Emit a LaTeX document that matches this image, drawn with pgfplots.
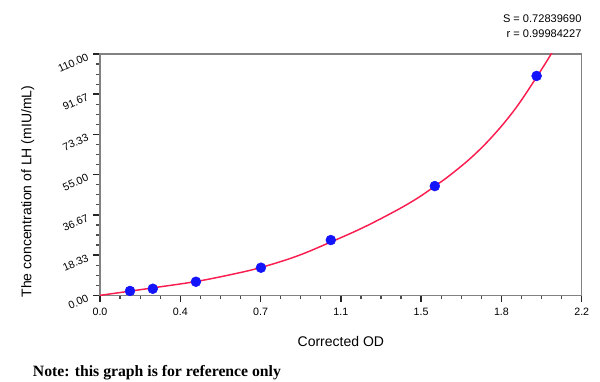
\documentclass[border=0pt]{standalone}
\usepackage{pgfplots}
\pgfplotsset{compat=1.18}
\usepackage{fontspec}
\setmainfont{Liberation Sans}
\newfontfamily\serifbold{Liberation Serif}
\definecolor{fitred}{RGB}{250,30,80}
\definecolor{ptblue}{RGB}{20,20,250}
\definecolor{axgray}{RGB}{130,130,130}
\begin{document}
\begin{tikzpicture}
\begin{axis}[
  scale only axis,
  width=361.3pt, height=181pt,
  xmin=0, xmax=2.2, ymin=0, ymax=110,
  axis line style={axgray, line width=0.8pt},
  xtick pos=left, ytick pos=left,
  tick align=outside,
  minor tick style={black!70, line width=0.9pt},
  major tick style={black!85, line width=1.1pt},
  major tick length=5pt, minor tick length=3pt,
  minor xtick={0.09167,0.18333,0.275,0.45833,0.55,0.64167,0.825,0.91667,1.00833,1.19167,1.28333,1.375,1.55833,1.65,1.74167,1.925,2.01667,2.10833},
  minor ytick={4.5833,9.1667,13.75,22.9167,27.5,32.0833,41.25,45.8333,50.4167,59.5833,64.1667,68.75,77.9167,82.5,87.0833,96.25,100.8333,105.4167},
  xtick={0,0.36667,0.73333,1.1,1.46667,1.83333,2.2},
  xticklabels={0.0,0.4,0.7,1.1,1.5,1.8,2.2},
  ytick={0,18.3333,36.6667,55,73.3333,91.6667,110},
  yticklabels={0.00,18.33,36.67,55.00,73.33,91.67,110.00},
  /pgf/number format/assume math mode=true,
  ticklabel style={font=\fontsize{8pt}{9pt}\selectfont},
  yticklabel style={rotate=24, anchor=east, xshift=-1pt},
  xticklabel style={yshift=-1pt},
  xlabel={Corrected OD},
  ylabel={The concentration of LH (mIU/mL)},
  label style={font=\fontsize{10.5pt}{12pt}\selectfont},
  xlabel style={at={(axis description cs:0.5,0)}, anchor=center, yshift=-34.3pt},
  ylabel style={at={(axis description cs:-0.15,0.43)}, anchor=center},
]
\addplot[only marks, mark=*, mark size=3.7pt, color=ptblue, mark options={fill=ptblue, draw=ptblue}] coordinates {
  (0.137,2.0) (0.241,3.0) (0.438,6.2) (0.735,12.6) (1.054,25.2) (1.529,49.8) (1.994,100.0)
};
\addplot[fitred, line width=1.1pt, smooth, tension=0.6] coordinates {
  (0,0) (0.137,1.9) (0.241,3.4) (0.438,6.3) (0.60,9.5) (0.735,12.7) (0.90,17.9)
  (1.054,24.3) (1.20,30.8) (1.35,38.5) (1.45,44.3) (1.53,49.8) (1.60,54.9)
  (1.70,63.2) (1.80,73.3) (1.90,85.5) (2.00,100.4) (2.07,111.5) (2.10,116)
};
\end{axis}
\node[anchor=east, font=\fontsize{8.3pt}{10pt}\selectfont, inner sep=0pt] at (361.3pt,207.2pt) {S = 0.72839690};
\node[anchor=east, font=\fontsize{8.3pt}{10pt}\selectfont, inner sep=0pt] at (361.3pt,196.5pt) {r = 0.99984227};
\node[anchor=west, font=\serifbold\bfseries\fontsize{11.8pt}{13pt}\selectfont, inner sep=0pt] at (-50.5pt,-58.3pt) {Note: this graph is for reference only};
\useasboundingbox (-75pt,-65pt) rectangle (375pt,221.5pt);
\end{tikzpicture}
\end{document}
